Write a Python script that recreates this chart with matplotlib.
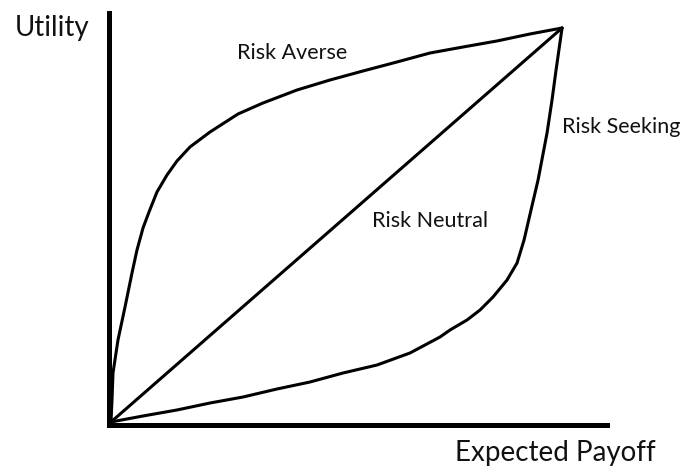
"""Utility vs expected payoff sketch: risk averse, neutral and seeking."""

import matplotlib.pyplot as plt

# curves, payoff and utility both scaled 0..100
averse_x = [0.55, 0.77, 0.99, 2.09, 3.64, 5.18, 6.28, 7.61, 8.93, 10.69,
            12.90, 15.10, 17.97, 22.38, 28.56, 34.07, 41.57, 48.84, 56.12,
            63.62, 70.89, 78.17, 85.67, 92.94, 100.0]
averse_y = [0.76, 6.30, 13.10, 21.41, 29.72, 38.29, 44.08, 49.62, 53.65,
            58.69, 62.97, 66.50, 70.03, 73.80, 78.34, 81.11, 84.38, 86.90,
            89.17, 91.44, 93.70, 95.21, 96.73, 98.49, 100.0]

neutral_x = [0.55, 100.0]
neutral_y = [0.76, 100.0]

seeking_x = [0.55, 7.61, 15.10, 22.38, 29.66, 37.16, 44.43, 51.71, 59.21,
             66.48, 73.10, 75.30, 79.05, 81.92, 84.78, 87.87, 90.08, 91.62,
             93.16, 94.71, 96.69, 97.79, 98.68, 100.0]
seeking_y = [0.76, 2.27, 3.78, 5.54, 7.05, 9.07, 10.83, 13.10, 15.11, 18.14,
             22.17, 23.93, 26.45, 28.97, 32.24, 36.52, 40.81, 46.60, 54.16,
             61.71, 73.55, 81.86, 89.42, 100.0]

x_max, y_max = 109.8, 103.9

plt.rcParams["font.family"] = ["Lato", "DejaVu Sans"]

fig = plt.figure(figsize=(6.84, 4.70), dpi=100)
ax = fig.add_axes([108.5 / 684, 45 / 470, 498 / 684, 412.5 / 470])

line_kw = dict(color="black", linewidth=2.2, solid_joinstyle="round",
               solid_capstyle="round")
ax.plot(averse_x, averse_y, **line_kw)
ax.plot(neutral_x, neutral_y, **line_kw)
ax.plot(seeking_x, seeking_y, **line_kw)

ax.set_xlim(0, x_max)
ax.set_ylim(0, y_max)
for side in ["top", "right"]:
    ax.spines[side].set_visible(False)
for side in ["left", "bottom"]:
    ax.spines[side].set_linewidth(3.6)
    ax.spines[side].set_capstyle("projecting")
ax.set_xticks([])
ax.set_yticks([])

text_kw = dict(color="#111111", va="baseline", ha="left", clip_on=False)
ax.text(-20.6, 98.0, "Utility", fontsize=20, **text_kw)
ax.text(76.4, -9.1, "Expected Payoff", fontsize=20, **text_kw)
ax.text(28.3, 92.2, "Risk Averse", fontsize=15.5, **text_kw)
ax.text(100.0, 73.6, "Risk Seeking", fontsize=15.5, **text_kw)
ax.text(58.1, 49.9, "Risk Neutral", fontsize=15.5, **text_kw)

fig.savefig("out.png", dpi=100)
plt.close(fig)
